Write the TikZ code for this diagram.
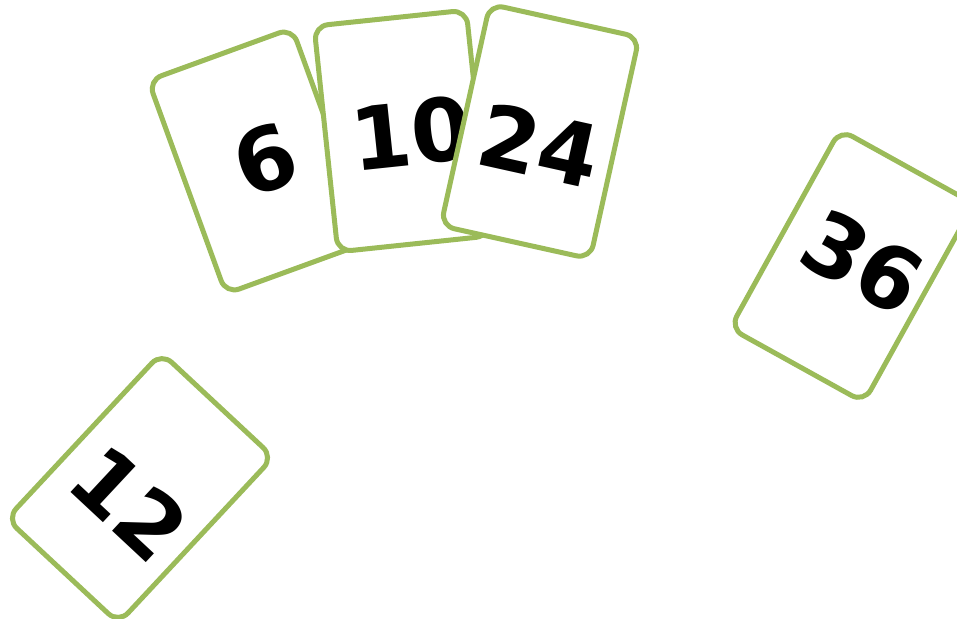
\documentclass[tikz,border=0pt]{standalone}
\usepackage{fontspec}
\newfontfamily\cardfont{DejaVu Sans}
\usetikzlibrary{positioning, calc}
\definecolor{cardgreen}{RGB}{155,187,89}

\begin{document}
\begin{tikzpicture}[x=1pt,y=-1pt,line cap=round,
    card/.style={draw=cardgreen, line width=5pt, fill=white, rounded corners=14pt,
      minimum width=153pt, minimum height=227pt, inner sep=0pt, text depth=0pt,
      font=\cardfont\bfseries\fontsize{87}{90}\selectfont}]
  \useasboundingbox (0,0) rectangle (957,618);
  \clip (0,0) rectangle (957,618);

  % --- fan of three cards ---
  \node[card, rotate=20] (c6) at (259,161) {\hspace{12pt}6};
  \node[card, rotate=6, text height=70pt] (c10) at (402,131) {\hspace{18pt}10};
  \node[card, rotate=-12.5, text height=91pt] (c24) at (540,131.5) {\hspace{5pt}24};

  % --- single cards ---
  \node[card, rotate=-29, text height=46pt] (c36) at (852,266) {\hspace{14pt}36};
  \node[card, rotate=-43, text height=101pt] (c12) at (140,488) {\hspace{6pt}12};
\end{tikzpicture}
\end{document}
